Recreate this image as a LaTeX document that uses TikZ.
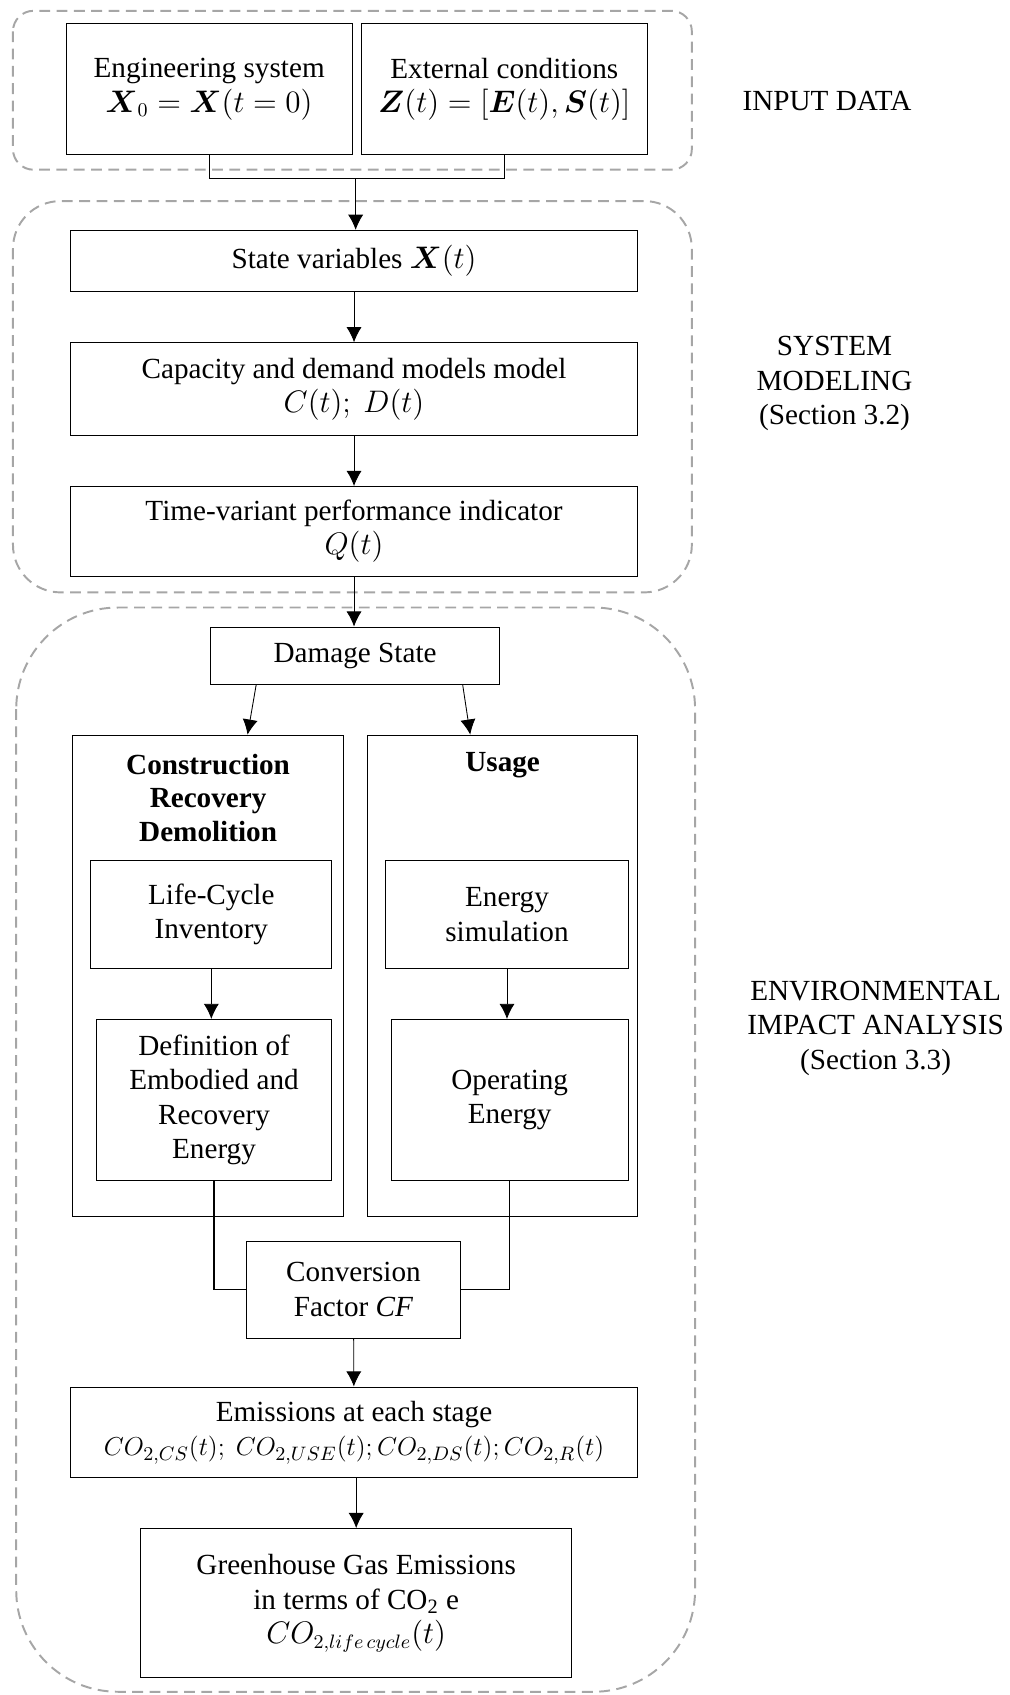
\documentclass[tikz,border=0pt]{standalone}
\usepackage{amsmath}
\usepackage{fontspec}
\setmainfont{Liberation Serif}
\usepackage{tikz}
\usetikzlibrary{arrows.meta,calc,positioning}
\tikzset{
    -{Latex[length=7pt,width=7pt]},line width=1.1pt,
    every node/.style={font=\fontsize{13.5}{16}\selectfont},
    box/.style ={rectangle, draw, align=center, inner sep=2pt},
    title/.style = {align=center, font=\fontsize{13.5}{15.5}\selectfont\bfseries},
    link/.style = {-, line width=0.6pt},
    group/.style={-, draw=gray!70, dash pattern=on 5pt off 3pt, line width=0.9pt},
    side/.style = {align=center}
}

\begin{document}
\begin{tikzpicture}[x=0.5pt,y=-0.5pt]
 \useasboundingbox (0,0) rectangle (934,1568);
 % dashed groups
 \draw[group, rounded corners=9.5pt] (12,10) rectangle (640,157);
 \draw[group, rounded corners=22pt] (12,186) rectangle (640,548);
 \draw[group, rounded corners=47pt] (15,562) rectangle (643,1565);

 \node[box, minimum width=132.5pt, minimum height=60.5pt] (eng) at (193.5,82.5) {Engineering system\\ $\boldsymbol{X}_0=\boldsymbol{X}(t=0)$};
 \node[box, minimum width=132.5pt, minimum height=60.5pt] (ext) at (466.5,82.5) {External conditions\\ $\boldsymbol{Z}(t)=[\boldsymbol{E}(t),\boldsymbol{S}(t)]$};
 \node[box, minimum width=262.5pt, minimum height=28.5pt] (sv) at (327.5,241.5) {State variables $\boldsymbol{X}(t)$};
 \node[box, minimum width=262.5pt, minimum height=43pt] (cd) at (327.5,360) {Capacity and demand models model\\ $C(t);\ D(t)$};
 \node[box, minimum width=262.5pt, minimum height=41.5pt] (pi) at (327.5,491.5) {Time-variant performance indicator\\ $Q(t)$};
 \node[box, minimum width=133.5pt, minimum height=26.5pt] (ds) at (328.5,606.5) {Damage State};

 \node[box, minimum width=125.5pt, minimum height=222.5pt] (crd) at (192.5,902.5) {};
 \node[box, minimum width=125pt, minimum height=222.5pt] (use) at (465,902.5) {};
 \node[title] (crdt) at (192.5,738) {Construction\\Recovery\\Demolition};
 \node[title] (uset) at (465,708) {Usage};
 \node[box, minimum width=111.5pt, minimum height=50pt] (lci) at (195.5,846) {Life-Cycle\\Inventory};
 \node[box, minimum width=109pt, minimum height=74.5pt] (emb) at (198,1017.5) {Definition of\\Embodied and\\Recovery\\Energy};
 \node[box, minimum width=112pt, minimum height=50pt] (esim) at (469,846) {Energy\\simulation};
 \node[box, minimum width=109.5pt, minimum height=74.5pt] (oe) at (471.5,1017.5) {Operating\\Energy};
 \node[box, minimum width=99pt, minimum height=45pt] (cf) at (327,1193) {Conversion\\Factor \textit{CF}};
 \node[box, minimum width=262.5pt, minimum height=42pt] (em) at (327.5,1325) {Emissions at each stage\\ {\fontsize{12.3}{16}\selectfont$CO_{2,CS}(t);\ CO_{2,USE}(t); CO_{2,DS}(t); CO_{2,R}(t)$}};
 \node[box, minimum width=199.5pt, minimum height=69pt] (ghg) at (329.5,1483) {Greenhouse Gas Emissions\\in terms of CO\textsubscript{2} e\\ $CO_{2,life\,cycle}(t)$};

 \node[side] (lin) at (765,93) {INPUT DATA};
 \node[side] (lsm) at (772,355) {SYSTEM\\MODELING\\(Section 3.2)};
 \node[side] (lenv) at (810,951) {ENVIRONMENTAL\\IMPACT ANALYSIS\\(Section 3.3)};

 \coordinate (j1) at (329,165);
 \draw[link] (eng.south) |- (j1) -| (ext.south);
 \path (j1) edge (j1 |- sv.north);
 \path (sv) edge (cd);
 \path (cd) edge (pi);
 \path (pi.south) edge (pi.south |- ds.north);
 \path ($(ds.south)+(-91.5,0)$) edge ($(crd.north)+(36.5,0)$);
 \path ($(ds.south)+(99.5,0)$) edge ($(use.north)+(-30,0)$);
 \path (lci.south) edge (lci.south |- emb.north);
 \path (esim.south) edge (esim.south |- oe.north);
 \draw[link] (emb.south) |- (cf.west);
 \draw[link] (oe.south) |- (cf.east);
 \path (cf) edge (em);
 \path (em.south -| ghg.north) edge (ghg.north);
\end{tikzpicture}
\end{document}
